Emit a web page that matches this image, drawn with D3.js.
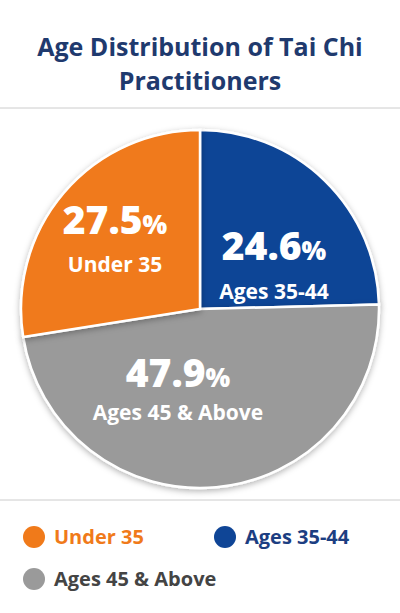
<!DOCTYPE html>
<html><head><meta charset="utf-8">
<script src="https://cdn.jsdelivr.net/npm/d3@7"></script>
<style>body{margin:0;background:#fff}svg{font-family:"Open Sans","Noto Sans",sans-serif}</style>
</head><body><svg id="c" width="400" height="613"></svg>
<script>
const categories = ["Ages 35-44", "Ages 45 & Above", "Under 35"];
const values = [24.6, 47.9, 27.5];
const colors = ["#0f4596", "#9a9a9a", "#f07a1a"];
const labelPos = [[274, 260, 299], [178, 387, 420], [115, 234, 272]];
const legendItems = [["Under 35", "#f07a1a", "#f07a1a"], ["Ages 35-44", "#0f4596", "#1c3e82"], ["Ages 45 & Above", "#9a9a9a", "#444"]];

const svg = d3.select("#c");
svg.append("text").attr("x", 200).attr("y", 56).attr("text-anchor", "middle")
  .attr("font-size", 25).attr("font-weight", 700).attr("fill", "#1f3a6e").text("Age Distribution of Tai Chi");
svg.append("text").attr("x", 200).attr("y", 90).attr("text-anchor", "middle")
  .attr("font-size", 25).attr("font-weight", 700).attr("fill", "#1f3a6e").text("Practitioners");
svg.append("line").attr("x1", 0).attr("x2", 400).attr("y1", 108).attr("y2", 108).attr("stroke", "#ccc");
svg.append("line").attr("x1", 0).attr("x2", 400).attr("y1", 500).attr("y2", 500).attr("stroke", "#ccc");

const defs = svg.append("defs");
const f = defs.append("filter").attr("id", "sh").attr("x", "-20%").attr("y", "-20%").attr("width", "140%").attr("height", "140%");
f.append("feDropShadow").attr("dx", 0).attr("dy", 2).attr("stdDeviation", 3).attr("flood-opacity", 0.3);

const g = svg.append("g").attr("transform", "translate(200,309)");
const pie = d3.pie().sort(null)(values);
const arc = d3.arc().innerRadius(0).outerRadius(179);
g.selectAll("path").data(pie).join("path").attr("d", arc)
  .attr("fill", (d, i) => colors[i]).attr("stroke", "#fff").attr("stroke-width", 2.5).attr("filter", "url(#sh)");

values.forEach((v, i) => {
  const [x, y1, y2] = labelPos[i];
  const t = svg.append("text").attr("x", x).attr("y", y1).attr("text-anchor", "middle")
    .attr("fill", "#fff").attr("font-weight", 800);
  t.append("tspan").attr("font-size", 39).text(v.toFixed(1));
  t.append("tspan").attr("font-size", 26).text("%");
  svg.append("text").attr("x", x).attr("y", y2).attr("text-anchor", "middle")
    .attr("fill", "#fff").attr("font-weight", 700).attr("font-size", 21).text(categories[i]);
});

const lp = [[34, 537], [225, 537], [34, 579]];
legendItems.forEach(([name, c, tc], i) => {
  const [x, y] = lp[i];
  svg.append("circle").attr("cx", x).attr("cy", y).attr("r", 11).attr("fill", c);
  svg.append("text").attr("x", x + 20).attr("y", y + 7).attr("font-size", 20).attr("font-weight", 700)
    .attr("fill", tc).text(name);
});
</script></body></html>
